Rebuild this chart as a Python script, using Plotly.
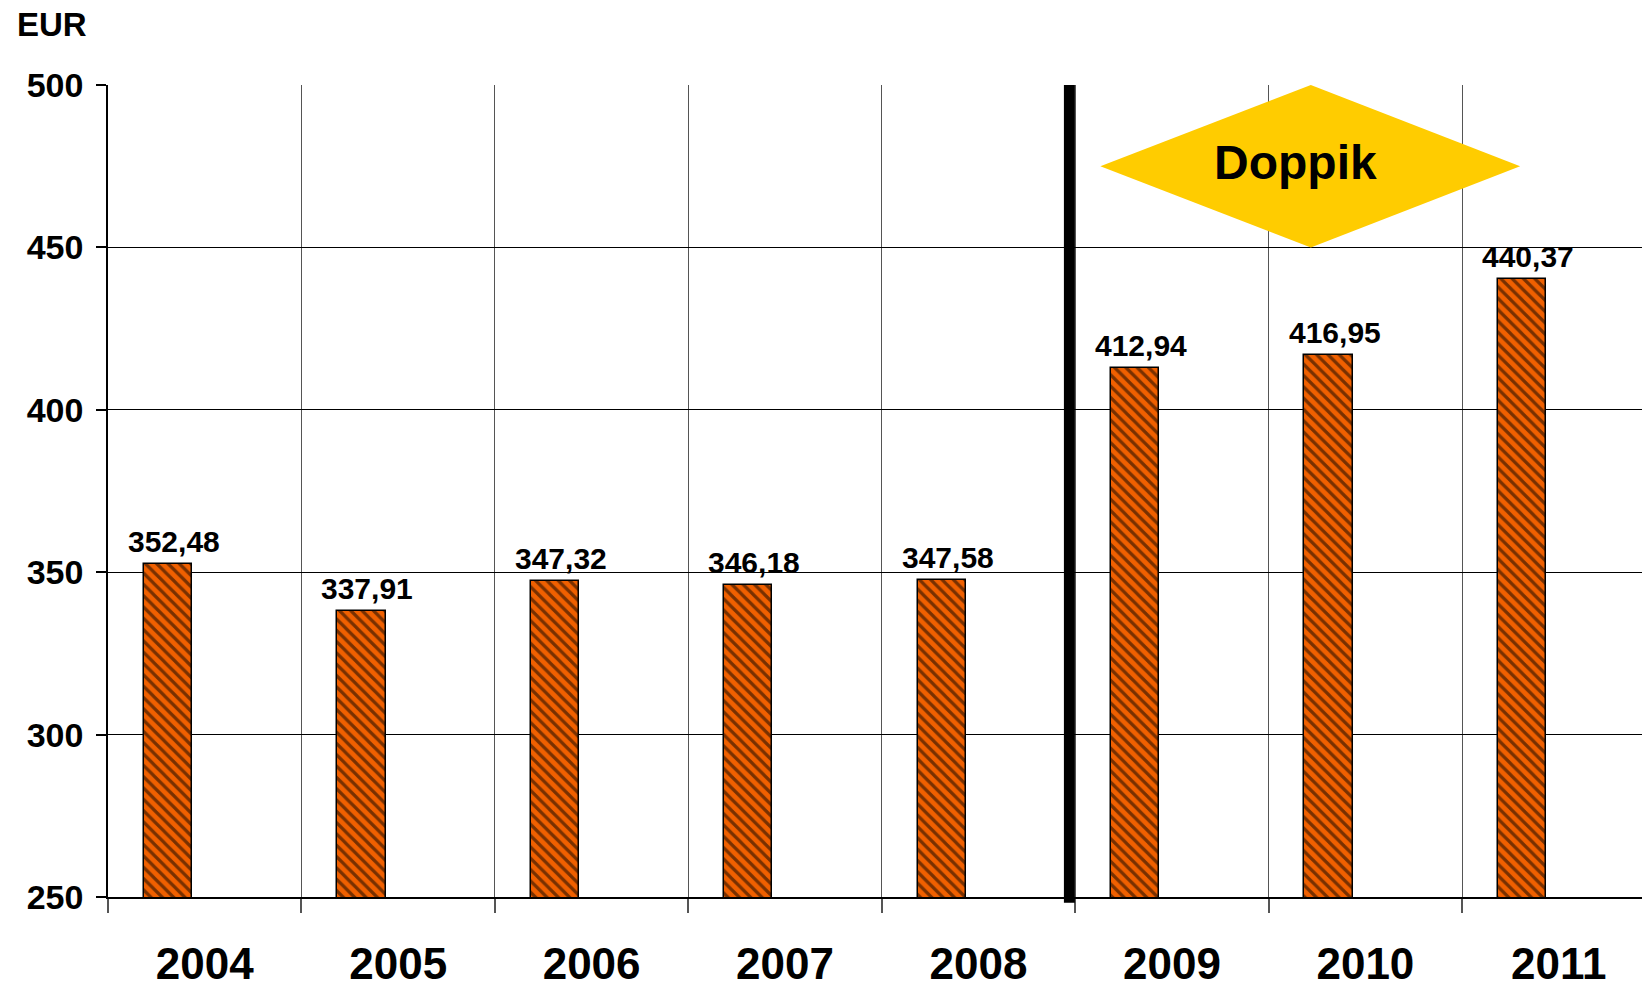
import plotly.graph_objects as go

years = ["2004", "2005", "2006", "2007", "2008", "2009", "2010", "2011"]
values = [352.48, 337.91, 347.32, 346.18, 347.58, 412.94, 416.95, 440.37]
y_ticks = [250, 300, 350, 400, 450, 500]
unit_label = "EUR"
badge_text = "Doppik"

FONT = "Liberation Sans, Arial, Helvetica, sans-serif"
ORANGE = "#F06000"
YELLOW = "#FFCC00"

X_RANGE = [-0.5, 7.43]
DIVIDER_X = 4.47
BAR_WIDTH = 0.25
BAR_OFFSET = -0.315

fig = go.Figure()
fig.add_trace(go.Bar(
    x=years, y=values,
    width=BAR_WIDTH, offset=BAR_OFFSET,
    marker=dict(color=ORANGE,
                line=dict(color="black", width=1.5),
                pattern=dict(shape="\\", fgcolor="black", bgcolor=ORANGE,
                             size=8, solidity=0.4, fillmode="overlay")),
    showlegend=False, hoverinfo="skip",
))

# value labels above the bars (slightly right of the bar centre, as in the source)
for i, v in enumerate(values):
    fig.add_annotation(x=i + BAR_OFFSET + BAR_WIDTH / 2, y=v, xref="x", yref="y",
                       text=f"{v:.2f}".replace(".", ","),
                       showarrow=False, yanchor="bottom", xanchor="center",
                       xshift=6, yshift=4,
                       font=dict(family=FONT, size=30, color="black", weight="bold"))

# period divider between 2008 and 2009
div_paper = (DIVIDER_X - X_RANGE[0]) / (X_RANGE[1] - X_RANGE[0])
fig.add_shape(type="line", xref="paper", yref="paper", x0=div_paper, x1=div_paper,
              y0=-0.007, y1=1, line=dict(color="black", width=11), layer="above")

# Doppik diamond
fig.add_shape(type="path", xref="x", yref="y",
              path="M 4.63,475 L 5.718,500 L 6.80,475 L 5.718,450 Z",
              fillcolor=YELLOW, line=dict(width=0), layer="above")
fig.add_annotation(text=badge_text, x=5.64, y=476, xref="x", yref="y",
                   showarrow=False,
                   font=dict(family=FONT, size=48, color="black", weight="bold"))

fig.add_annotation(text=unit_label, xref="paper", yref="paper",
                   x=-0.0365, y=1.0739, xanchor="center", yanchor="middle",
                   showarrow=False,
                   font=dict(family=FONT, size=33, color="black", weight="bold"))

fig.update_layout(
    width=1642, height=989,
    margin=dict(l=108, r=0, t=85, b=92),
    paper_bgcolor="white", plot_bgcolor="white",
    separators=",.",
    bargap=0,
    font=dict(family=FONT, color="black"),
    xaxis=dict(
        type="category", range=X_RANGE,
        tickson="boundaries", ticks="outside", ticklen=14, tickcolor="#555",
        tickwidth=1.5,
        showgrid=True, gridcolor="#555", gridwidth=1,
        showline=True, linecolor="black", linewidth=1.5,
        tickfont=dict(family=FONT, size=44, color="black", weight="bold"),
        ticklabelstandoff=27,
        zeroline=False,
    ),
    yaxis=dict(
        range=[250, 500], tickvals=y_ticks,
        ticks="outside", ticklen=10, tickcolor="black", tickwidth=1.5,
        showgrid=True, gridcolor="black", gridwidth=1,
        showline=True, linecolor="black", linewidth=1.5,
        tickfont=dict(family=FONT, size=34, color="black", weight="bold"),
        ticklabelstandoff=6,
        zeroline=False,
    ),
)

fig.write_html("out.html",
               config={"displayModeBar": False},
               post_script="document.body.style.margin='0';document.body.style.overflow='hidden';")
